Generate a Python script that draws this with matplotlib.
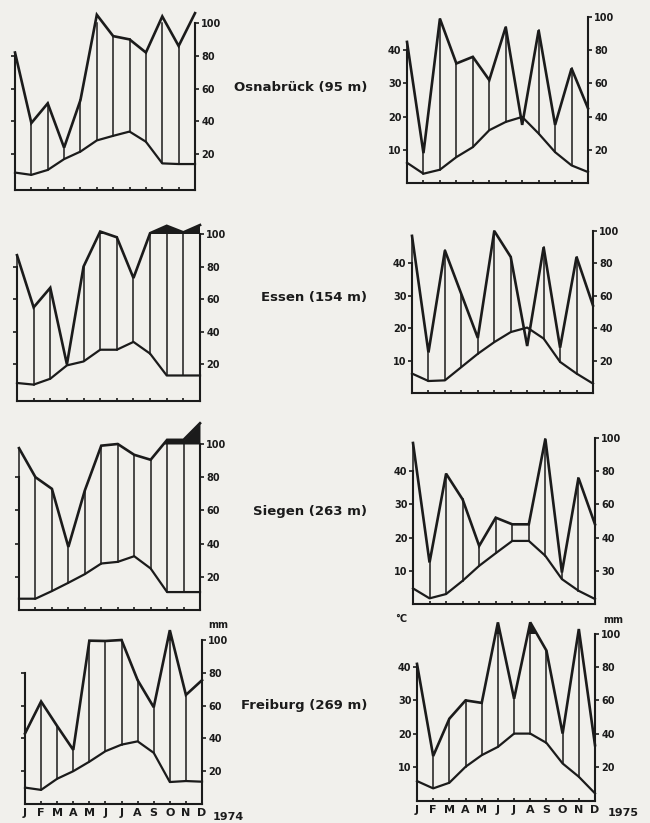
import matplotlib
matplotlib.use('Agg')
import matplotlib.pyplot as plt
import numpy as np

plt.rcParams['font.family'] = ['DejaVu Sans']

# ---------------- data ----------------
months = ['J', 'F', 'M', 'A', 'M', 'J', 'J', 'A', 'S', 'O', 'N', 'D']
stations = ['Osnabrück (95 m)', 'Essen (154 m)', 'Siegen (263 m)', 'Freiburg (269 m)']
years = ['1974', '1975']

# precipitation in mm, temperature in °C
osn_1974_precip = [82, 39, 51, 24, 53, 105, 92, 90, 82, 104, 86, 106]
osn_1974_temp = [4.4, 3.7, 5.2, 8.5, 10.8, 14.2, 15.6, 16.9, 13.8, 7.2, 7.0, 7.0]
osn_1975_precip = [85, 18, 99, 72, 76, 62, 94, 35, 92, 35, 69, 45]
osn_1975_temp = [6.1, 2.8, 4.0, 7.8, 10.8, 15.9, 18.4, 19.9, 14.9, 9.3, 5.3, 3.3]

ess_1974_precip = [87, 55, 67, 20, 80, 101.5, 98, 73, 100.5, 105, 101, 105.5]
ess_1974_temp = [4.3, 3.8, 5.6, 9.7, 10.9, 14.5, 14.5, 16.9, 13.3, 6.6, 6.6, 6.6]
ess_1975_precip = [97, 25, 88, 61, 34, 100, 84, 29, 90, 28, 84, 54]
ess_1975_temp = [6.0, 3.7, 3.9, 8.0, 12.1, 15.7, 18.8, 20.2, 16.8, 9.6, 6.0, 2.9]

sie_1974_precip = [97.5, 80, 73, 38, 72, 99, 100, 93.5, 90.5, 102.5, 102.5, 112.5]
sie_1974_temp = [3.4, 3.4, 5.7, 8.2, 10.8, 14.0, 14.5, 16.2, 12.5, 5.4, 5.4, 5.4]
sie_1975_precip = [97, 25, 78.5, 63, 35, 52, 48, 48, 99.5, 19, 76, 48]
sie_1975_temp = [4.7, 1.7, 3.0, 7.0, 11.5, 15.3, 19.0, 19.0, 14.5, 7.5, 4.0, 1.5]

fre_1974_precip = [43, 62.5, 47.5, 33, 99.6, 99.4, 100, 75.5, 59, 106, 66.5, 75.5]
fre_1974_temp = [5.0, 4.3, 7.7, 10.0, 12.9, 16.1, 18.1, 19.1, 15.6, 6.7, 7.0, 6.8]
fre_1975_precip = [82, 26.5, 49, 60, 58.5, 107, 61, 107, 90, 40, 103, 33]
fre_1975_temp = [5.7, 3.5, 5.2, 10.0, 13.5, 16.0, 20.0, 20.0, 17.2, 11.0, 7.0, 2.0]

temp_ticks_mm = [20, 40, 60, 80]
temp_tick_labels = ['10', '20', '30', '40']
precip_ticks = [20, 40, 60, 80, 100]
precip_tick_labels = ['20', '40', '60', '80', '100']
precip_tick_labels_sie75 = ['30', '40', '60', '80', '100']

# ---------------- layout (pixel geometry of the scan) ----------------
W, H = 650, 823
INK = '#1b1b1b'
BG = '#f1f0ec'

# (left spine, right spine, bottom spine, y of 0 mm, y of 100 mm)
panels = [
    dict(p=osn_1974_precip, t=osn_1974_temp, g=(15, 195, 190, 187, 23), fill=False, rl=precip_tick_labels),
    dict(p=osn_1975_precip, t=osn_1975_temp, g=(407, 588, 183, 183, 17), fill=True, rl=precip_tick_labels),
    dict(p=ess_1974_precip, t=ess_1974_temp, g=(17, 200, 401, 397, 234), fill=True, rl=precip_tick_labels),
    dict(p=ess_1975_precip, t=ess_1975_temp, g=(412, 593, 393, 393, 231), fill=True, rl=precip_tick_labels),
    dict(p=sie_1974_precip, t=sie_1974_temp, g=(19, 200, 610, 610, 444), fill=True, rl=precip_tick_labels),
    dict(p=sie_1975_precip, t=sie_1975_temp, g=(413, 595, 604, 604, 438), fill=True, rl=precip_tick_labels_sie75),
    dict(p=fre_1974_precip, t=fre_1974_temp, g=(25, 202, 804, 804, 640), fill=True, rl=precip_tick_labels),
    dict(p=fre_1975_precip, t=fre_1975_temp, g=(417, 595, 801, 800, 634), fill=True, rl=precip_tick_labels),
]

fig = plt.figure(figsize=(W / 100, H / 100), dpi=100, facecolor=BG)

x = np.arange(12)
tick_font = dict(fontsize=7, fontweight='bold', color=INK)

for k, pan in enumerate(panels):
    L, R, bot, y0, y100 = pan['g']
    scale = (y0 - y100) / 100.0
    ytop_mm = 116
    top_px = y0 - ytop_mm * scale
    ymin = -(bot - y0) / scale
    ax = fig.add_axes([L / W, 1 - bot / H, (R - L) / W, (bot - top_px) / H])
    ax.set_facecolor('none')
    ax.set_xlim(0, 11)
    ax.set_ylim(ymin, ytop_mm)

    p = np.array(pan['p'], dtype=float)
    t = np.array(pan['t'], dtype=float) * 2.0

    if pan['fill']:
        ax.fill_between(x, 100, p, where=p > 100, interpolate=True, color=INK, lw=0, clip_on=False)
    for i in range(12):
        if p[i] > t[i]:
            ax.plot([x[i], x[i]], [t[i], min(p[i], 100)], color=INK, lw=1.1, clip_on=False)
    ax.plot(x, p, color=INK, lw=1.9, clip_on=False, solid_joinstyle='miter')
    ax.plot(x, t, color=INK, lw=1.6, clip_on=False)

    ax.spines['top'].set_visible(False)
    for s in ['left', 'bottom']:
        ax.spines[s].set_color(INK)
        ax.spines[s].set_linewidth(1.5)
    ax.spines['left'].set_bounds(ymin, 80)
    ax.spines['right'].set_visible(False)

    ax.set_xticks(x)
    ax.tick_params(axis='x', direction='in', length=2.5, width=1.2, color=INK)
    if k >= 6:
        ax.set_xticklabels(months, fontsize=8, fontweight='bold', color=INK)
        ax.tick_params(axis='x', pad=3)
    else:
        ax.set_xticklabels([])

    ax.set_yticks(temp_ticks_mm)
    if k % 2 == 1:
        ax.set_yticklabels(temp_tick_labels, **tick_font)
    else:
        # left column: temperature labels lie beyond the cropped scan edge
        ax.set_yticklabels([])
    ax.tick_params(axis='y', direction='out', length=3, width=1.2, color=INK, pad=1)

    ax2 = ax.twinx()
    ax2.set_ylim(ymin, ytop_mm)
    for s in ['top', 'left', 'bottom']:
        ax2.spines[s].set_visible(False)
    ax2.spines['right'].set_color(INK)
    ax2.spines['right'].set_linewidth(1.5)
    ax2.spines['right'].set_bounds(ymin, 100)
    ax2.set_yticks(precip_ticks)
    ax2.set_yticklabels(pan['rl'], **tick_font)
    ax2.tick_params(axis='y', direction='out', length=3, width=1.2, color=INK, pad=1.5)

# station names between columns
label_y = [88, 298, 512, 706]
for name, yy in zip(stations, label_y):
    fig.text(367 / W, 1 - yy / H, name, ha='right', va='center',
             fontsize=9.5, fontweight='bold', color=INK)

# unit labels
fig.text(218 / W, 1 - 625 / H, 'mm', ha='center', va='center', fontsize=7, fontweight='bold', color=INK)
fig.text(613 / W, 1 - 620 / H, 'mm', ha='center', va='center', fontsize=7, fontweight='bold', color=INK)
fig.text(401 / W, 1 - 619 / H, '°C', ha='center', va='center', fontsize=7, fontweight='bold', color=INK)

# years
fig.text(213 / W, 1 - 817 / H, years[0], ha='left', va='center', fontsize=8, fontweight='bold', color=INK)
fig.text(608 / W, 1 - 813 / H, years[1], ha='left', va='center', fontsize=8, fontweight='bold', color=INK)

fig.savefig('out.png', dpi=100, facecolor=BG)
